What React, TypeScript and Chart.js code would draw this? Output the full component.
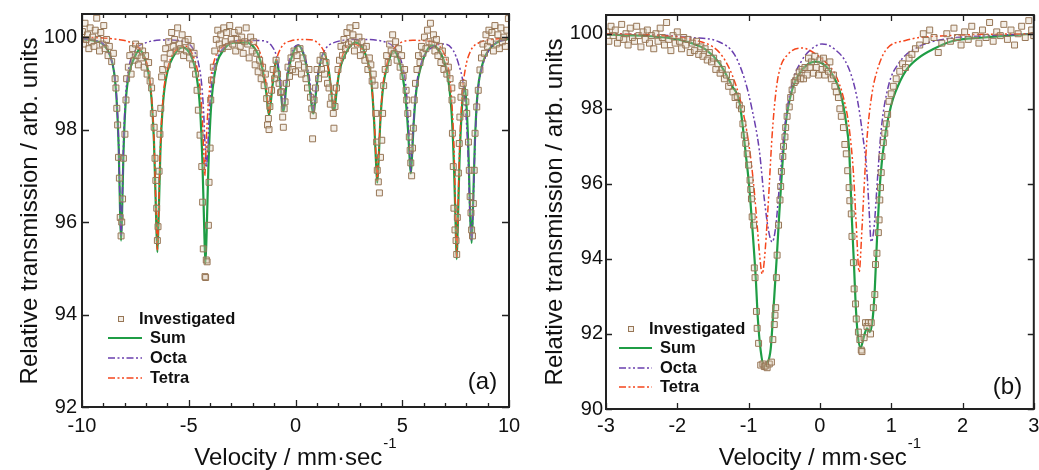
import React, { useEffect, useRef } from 'react';
import { Chart, registerables } from 'chart.js';

Chart.register(...registerables);

const FONT = '"Liberation Sans", Arial, Helvetica, sans-serif';

// ---------- shared text ----------
const legendLabels = ['Investigated', 'Sum', 'Octa', 'Tetra'];
const yTitleText = 'Relative transmission / arb. units';
const xTitleText = 'Velocity / mm·sec';
const xTitleSup = '-1';

// ---------- panel (a) ----------
const xTicksA = [-10, -5, 0, 5, 10];
const yTicksA = [92, 94, 96, 98, 100];

const investigatedA: [number, number][] = [
  [-9.98, 100.12], [-9.92, 99.85], [-9.86, 100.3], [-9.8, 99.95], [-9.74, 100.05], [-9.68, 99.75], [-9.62, 100.2], [-9.56, 99.9], [-9.5, 100.0], [-9.44, 99.8],
  [-9.38, 100.15], [-9.31, 100.41], [-9.25, 99.95], [-9.18, 99.7], [-9.12, 100.1], [-9.05, 99.85], [-8.98, 100.25], [-8.92, 99.75], [-8.85, 99.95], [-8.78, 99.6],
  [-8.72, 99.8], [-8.61, 99.47], [-8.53, 99.65], [-8.45, 99.1], [-8.41, 98.9], [-8.37, 98.46], [-8.33, 98.1], [-8.29, 97.4], [-8.25, 96.95], [-8.21, 96.1],
  [-8.17, 95.7], [-8.14, 96.0], [-8.1, 96.5], [-8.06, 97.38], [-7.99, 97.9], [-7.94, 98.64], [-7.91, 99.1], [-7.83, 99.35], [-7.76, 99.6], [-7.7, 99.2],
  [-7.63, 99.75], [-7.56, 99.5], [-7.49, 99.85], [-7.42, 99.6], [-7.36, 99.4], [-7.3, 99.8], [-7.23, 99.55], [-7.16, 99.7], [-7.09, 99.35], [-7.02, 99.6],
  [-6.95, 99.2], [-6.88, 99.45], [-6.81, 99.05], [-6.74, 98.9], [-6.66, 98.35], [-6.62, 98.05], [-6.58, 97.38], [-6.54, 96.9], [-6.5, 96.3], [-6.47, 95.6],
  [-6.44, 95.9], [-6.39, 97.1], [-6.35, 97.9], [-6.31, 98.46], [-6.27, 99.14], [-6.22, 99.3], [-6.15, 99.55], [-6.08, 99.75], [-6.01, 99.4], [-5.94, 99.9],
  [-5.87, 99.65], [-5.8, 100.1], [-5.73, 99.8], [-5.66, 99.95], [-5.59, 99.7], [-5.52, 100.2], [-5.45, 99.85], [-5.38, 99.75], [-5.31, 100.05], [-5.24, 99.6],
  [-5.17, 99.9], [-5.1, 99.7], [-5.03, 99.95], [-4.96, 99.55], [-4.89, 99.8], [-4.82, 99.4], [-4.75, 99.65], [-4.68, 99.2], [-4.61, 98.85], [-4.55, 98.42],
  [-4.47, 97.88], [-4.39, 97.2], [-4.35, 96.43], [-4.32, 95.42], [-4.24, 94.82], [-4.21, 94.8], [-4.18, 95.18], [-4.14, 95.14], [-4.08, 95.93], [-4.05, 96.86],
  [-4.0, 97.6], [-3.97, 98.64], [-3.93, 99.07], [-3.85, 99.35], [-3.78, 99.7], [-3.71, 99.95], [-3.64, 100.15], [-3.57, 99.85], [-3.5, 100.05], [-3.43, 99.75],
  [-3.36, 100.2], [-3.29, 99.9], [-3.22, 100.1], [-3.15, 99.8], [-3.08, 100.25], [-3.01, 99.95], [-2.94, 99.85], [-2.87, 100.1], [-2.8, 99.7], [-2.73, 99.95],
  [-2.66, 100.15], [-2.59, 99.8], [-2.52, 100.0], [-2.45, 99.65], [-2.38, 99.9], [-2.31, 100.2], [-2.24, 99.85], [-2.17, 99.55], [-2.1, 100.0], [-2.03, 99.7],
  [-1.96, 99.9], [-1.89, 99.4], [-1.82, 99.65], [-1.75, 99.25], [-1.68, 99.5], [-1.61, 99.1], [-1.54, 99.35], [-1.47, 98.95], [-1.41, 99.2], [-1.35, 98.67],
  [-1.31, 98.1], [-1.27, 98.24], [-1.24, 98.0], [-1.2, 98.5], [-1.12, 98.85], [-1.05, 99.3], [-0.98, 99.1], [-0.91, 99.5], [-0.84, 99.2], [-0.77, 99.0],
  [-0.7, 98.8], [-0.65, 98.82], [-0.6, 98.27], [-0.57, 98.05], [-0.53, 98.45], [-0.49, 98.6], [-0.42, 99.0], [-0.35, 99.35], [-0.28, 99.15], [-0.21, 99.55],
  [-0.14, 99.3], [-0.07, 99.7], [0.0, 99.25], [0.07, 99.6], [0.14, 99.4], [0.21, 99.75], [0.28, 99.2], [0.35, 99.55], [0.42, 99.35], [0.49, 99.1],
  [0.56, 98.9], [0.63, 99.3], [0.7, 98.7], [0.76, 98.45], [0.8, 97.8], [0.83, 98.3], [0.87, 98.64], [0.94, 98.9], [1.01, 99.3], [1.08, 99.1],
  [1.15, 99.5], [1.22, 99.3], [1.29, 99.6], [1.36, 99.2], [1.43, 99.45], [1.5, 99.0], [1.57, 98.9], [1.63, 98.55], [1.7, 98.7], [1.77, 98.35],
  [1.8, 98.03], [1.85, 98.5], [1.92, 98.9], [1.99, 99.3], [2.06, 99.5], [2.13, 99.8], [2.2, 99.6], [2.27, 99.95], [2.34, 99.75], [2.41, 100.1],
  [2.48, 99.85], [2.55, 100.2], [2.62, 99.9], [2.69, 100.05], [2.76, 99.7], [2.83, 100.25], [2.9, 99.85], [2.97, 100.0], [3.04, 99.6], [3.11, 99.9],
  [3.18, 99.75], [3.25, 99.5], [3.32, 99.8], [3.39, 99.3], [3.46, 99.55], [3.53, 99.4], [3.59, 99.05], [3.64, 99.2], [3.72, 98.96], [3.76, 98.35],
  [3.8, 97.73], [3.83, 97.12], [3.88, 96.87], [3.93, 96.63], [3.98, 97.4], [4.04, 97.77], [4.08, 98.35], [4.13, 98.95], [4.2, 99.3], [4.27, 99.6],
  [4.34, 99.45], [4.41, 99.85], [4.48, 99.7], [4.55, 100.05], [4.62, 99.65], [4.69, 99.9], [4.76, 99.5], [4.83, 99.75], [4.9, 99.35], [4.97, 99.6],
  [5.04, 99.15], [5.11, 99.3], [5.18, 98.85], [5.21, 98.64], [5.26, 98.35], [5.33, 97.84], [5.37, 97.55], [5.4, 97.28], [5.44, 97.0], [5.48, 97.6],
  [5.52, 98.03], [5.56, 98.64], [5.62, 99.0], [5.69, 99.3], [5.76, 99.6], [5.83, 99.45], [5.9, 99.8], [5.97, 99.65], [6.04, 100.0], [6.11, 99.75],
  [6.18, 100.15], [6.25, 99.9], [6.32, 100.3], [6.39, 99.85], [6.46, 100.05], [6.53, 99.7], [6.6, 99.95], [6.67, 99.6], [6.74, 99.8], [6.81, 99.45],
  [6.88, 99.7], [6.95, 99.3], [7.02, 99.5], [7.09, 99.2], [7.16, 99.35], [7.24, 99.1], [7.32, 98.9], [7.33, 98.64], [7.35, 97.92], [7.39, 97.2],
  [7.42, 96.3], [7.47, 95.83], [7.52, 95.6], [7.55, 95.3], [7.58, 96.1], [7.63, 97.06], [7.67, 97.7], [7.7, 98.27], [7.75, 98.7], [7.8, 98.95],
  [7.86, 99.0], [7.93, 98.8], [7.98, 98.6], [8.02, 98.35], [8.1, 97.73], [8.14, 97.12], [8.18, 96.55], [8.22, 96.2], [8.25, 95.83], [8.29, 95.7],
  [8.33, 96.4], [8.37, 97.12], [8.41, 97.92], [8.49, 98.49], [8.56, 98.85], [8.64, 99.29], [8.71, 99.55], [8.78, 99.85], [8.85, 99.65], [8.92, 100.05],
  [8.99, 99.8], [9.06, 100.15], [9.13, 99.9], [9.2, 100.1], [9.27, 99.7], [9.34, 100.25], [9.41, 99.85], [9.48, 100.05], [9.55, 99.75], [9.62, 100.2],
  [9.69, 99.9], [9.76, 100.0], [9.83, 99.8], [9.9, 100.15], [9.97, 100.4],
];

const sumA: [number, number][] = [
  [-10, 99.96], [-9.5, 99.93], [-9.0, 99.84], [-8.7, 99.62], [-8.5, 99.25], [-8.38, 98.65], [-8.28, 97.6], [-8.22, 96.3], [-8.17, 95.6], [-8.12, 96.25],
  [-8.06, 97.45], [-7.96, 98.55], [-7.8, 99.2], [-7.55, 99.55], [-7.32, 99.72], [-7.1, 99.6], [-6.9, 99.25], [-6.75, 98.7], [-6.63, 97.75], [-6.54, 96.3],
  [-6.47, 95.35], [-6.41, 96.1], [-6.33, 97.5], [-6.2, 98.6], [-6.0, 99.25], [-5.7, 99.6], [-5.3, 99.78], [-4.9, 99.6], [-4.65, 99.2], [-4.47, 98.45],
  [-4.36, 97.3], [-4.28, 95.95], [-4.22, 95.1], [-4.16, 95.8], [-4.08, 97.2], [-3.96, 98.45], [-3.75, 99.3], [-3.4, 99.7], [-2.9, 99.88], [-2.3, 99.88],
  [-1.9, 99.75], [-1.65, 99.5], [-1.48, 99.15], [-1.37, 98.8], [-1.29, 98.45], [-1.24, 98.32], [-1.19, 98.45], [-1.1, 98.85], [-1.0, 99.25], [-0.9, 99.52],
  [-0.8, 99.3], [-0.7, 98.9], [-0.62, 98.5], [-0.57, 98.4], [-0.52, 98.5], [-0.44, 98.9], [-0.32, 99.3], [-0.12, 99.65], [0.13, 99.82], [0.38, 99.62],
  [0.58, 99.2], [0.7, 98.75], [0.78, 98.45], [0.83, 98.35], [0.88, 98.45], [0.96, 98.8], [1.08, 99.25], [1.32, 99.65], [1.55, 99.3], [1.67, 98.85],
  [1.75, 98.5], [1.8, 98.42], [1.85, 98.5], [1.93, 98.85], [2.05, 99.25], [2.3, 99.6], [2.8, 99.88], [3.3, 99.6], [3.55, 99.05], [3.68, 98.2],
  [3.77, 97.3], [3.83, 96.85], [3.89, 97.3], [3.97, 98.15], [4.1, 98.9], [4.35, 99.45], [4.6, 99.7], [4.9, 99.4], [5.14, 98.75], [5.27, 98.0],
  [5.35, 97.35], [5.4, 97.05], [5.45, 97.35], [5.53, 98.1], [5.66, 98.85], [5.9, 99.4], [6.4, 99.82], [6.9, 99.55], [7.15, 99.1], [7.32, 98.3],
  [7.43, 97.1], [7.5, 95.95], [7.55, 95.2], [7.6, 95.9], [7.68, 97.3], [7.8, 98.5], [7.9, 98.95], [8.0, 98.6], [8.1, 97.55], [8.18, 96.15],
  [8.25, 95.55], [8.31, 96.25], [8.4, 97.7], [8.52, 98.75], [8.75, 99.4], [9.1, 99.75], [9.5, 99.9], [10, 99.96],
];

const octaA: [number, number][] = [
  [-10, 99.97], [-9.4, 99.93], [-9.0, 99.85], [-8.7, 99.6], [-8.5, 99.25], [-8.38, 98.7], [-8.28, 97.65], [-8.22, 96.4], [-8.17, 95.7], [-8.12, 96.4],
  [-8.06, 97.6], [-7.96, 98.7], [-7.8, 99.35], [-7.5, 99.72], [-7.0, 99.88], [-6.0, 99.94], [-5.2, 99.9], [-4.8, 99.75], [-4.55, 99.45], [-4.4, 99.0],
  [-4.3, 98.35], [-4.23, 97.6], [-4.17, 97.2], [-4.11, 97.6], [-4.03, 98.4], [-3.92, 99.05], [-3.7, 99.5], [-3.3, 99.8], [-2.5, 99.93], [-1.5, 99.92],
  [-1.1, 99.8], [-0.9, 99.6], [-0.76, 99.25], [-0.67, 98.85], [-0.61, 98.55], [-0.57, 98.45], [-0.53, 98.55], [-0.45, 98.95], [-0.33, 99.4], [-0.1, 99.75],
  [0.13, 99.83], [0.35, 99.7], [0.56, 99.35], [0.7, 98.95], [0.78, 98.55], [0.83, 98.4], [0.88, 98.55], [0.97, 98.95], [1.1, 99.35], [1.35, 99.7],
  [1.8, 99.88], [3.0, 99.95], [4.3, 99.88], [4.8, 99.65], [5.05, 99.3], [5.2, 98.8], [5.3, 98.0], [5.36, 97.4], [5.4, 97.1], [5.44, 97.4],
  [5.52, 98.1], [5.64, 98.85], [5.9, 99.45], [6.4, 99.78], [7.0, 99.85], [7.4, 99.7], [7.65, 99.4], [7.85, 99.0], [7.98, 98.35], [8.08, 97.5],
  [8.17, 96.2], [8.25, 95.6], [8.31, 96.2], [8.4, 97.6], [8.52, 98.7], [8.75, 99.35], [9.1, 99.75], [9.5, 99.9], [10, 99.95],
];

const tetraA: [number, number][] = [
  [-10, 100.0], [-9.0, 99.98], [-8.3, 99.95], [-7.8, 99.9], [-7.4, 99.8], [-7.1, 99.6], [-6.9, 99.3], [-6.75, 98.75], [-6.63, 97.8], [-6.54, 96.4],
  [-6.47, 95.4], [-6.41, 96.2], [-6.33, 97.6], [-6.2, 98.7], [-6.0, 99.3], [-5.6, 99.72], [-5.1, 99.8], [-4.8, 99.6], [-4.6, 99.3], [-4.45, 98.8],
  [-4.35, 98.1], [-4.3, 97.5], [-4.25, 97.0], [-4.2, 97.5], [-4.12, 98.3], [-4.0, 99.0], [-3.8, 99.5], [-3.4, 99.8], [-2.5, 99.92], [-1.9, 99.85],
  [-1.65, 99.65], [-1.48, 99.3], [-1.37, 98.95], [-1.29, 98.5], [-1.24, 98.35], [-1.19, 98.5], [-1.1, 98.95], [-0.95, 99.4], [-0.7, 99.75], [-0.2, 99.92],
  [0.5, 99.95], [1.1, 99.85], [1.4, 99.6], [1.6, 99.15], [1.72, 98.7], [1.8, 98.5], [1.88, 98.7], [2.0, 99.15], [2.2, 99.6], [2.6, 99.85],
  [3.1, 99.75], [3.4, 99.45], [3.6, 98.8], [3.72, 97.9], [3.79, 97.2], [3.83, 96.9], [3.87, 97.2], [3.94, 97.9], [4.06, 98.8], [4.3, 99.45],
  [4.7, 99.8], [5.5, 99.93], [6.4, 99.9], [6.9, 99.7], [7.15, 99.35], [7.32, 98.6], [7.43, 97.5], [7.5, 96.1], [7.55, 95.25], [7.6, 96.0],
  [7.68, 97.5], [7.8, 98.7], [7.95, 99.3], [8.2, 99.7], [8.6, 99.88], [9.2, 99.95], [10, 99.98],
];

// ---------- panel (b) ----------
const xTicksB = [-3, -2, -1, 0, 1, 2, 3];
const yTicksB = [90, 92, 94, 96, 98, 100];

const investigatedB: [number, number][] = [
  [-2.99, 100.05], [-2.96, 99.8], [-2.93, 100.2], [-2.9, 99.95], [-2.87, 100.1], [-2.84, 99.75], [-2.81, 99.9], [-2.78, 100.25], [-2.75, 99.85], [-2.72, 100.0],
  [-2.69, 99.7], [-2.66, 100.15], [-2.63, 99.9], [-2.6, 99.8], [-2.57, 100.2], [-2.54, 99.95], [-2.51, 99.65], [-2.48, 100.05], [-2.45, 99.85], [-2.42, 100.1],
  [-2.39, 99.75], [-2.36, 99.95], [-2.33, 99.6], [-2.3, 100.0], [-2.27, 99.8], [-2.24, 100.15], [-2.21, 99.9], [-2.18, 99.7], [-2.15, 100.3], [-2.12, 99.85],
  [-2.09, 99.55], [-2.06, 99.95], [-2.03, 99.75], [-2.0, 100.05], [-1.97, 99.8], [-1.94, 99.6], [-1.91, 99.9], [-1.88, 99.7], [-1.85, 99.85], [-1.82, 99.5],
  [-1.79, 99.75], [-1.76, 99.55], [-1.73, 99.8], [-1.7, 99.45], [-1.67, 99.65], [-1.64, 99.4], [-1.61, 99.6], [-1.58, 99.3], [-1.55, 99.5], [-1.52, 99.25],
  [-1.49, 99.35], [-1.46, 99.05], [-1.43, 99.2], [-1.4, 98.95], [-1.37, 99.05], [-1.34, 98.8], [-1.31, 98.9], [-1.28, 98.6], [-1.25, 98.7], [-1.22, 98.45],
  [-1.19, 98.3], [-1.16, 98.33], [-1.13, 98.1], [-1.1, 98.0], [-1.08, 97.6], [-1.06, 97.3], [-1.04, 97.08], [-1.02, 96.8], [-1.0, 96.5], [-0.98, 96.1],
  [-0.97, 95.85], [-0.96, 95.6], [-0.95, 95.12], [-0.93, 94.9], [-0.92, 93.76], [-0.91, 93.5], [-0.89, 92.6], [-0.88, 92.15], [-0.86, 91.75], [-0.83, 91.17],
  [-0.8, 91.2], [-0.78, 91.13], [-0.76, 91.15], [-0.74, 91.1], [-0.71, 91.2], [-0.68, 91.25], [-0.66, 91.85], [-0.64, 92.25], [-0.63, 92.5], [-0.62, 92.7],
  [-0.61, 93.5], [-0.6, 94.1], [-0.58, 94.9], [-0.56, 95.57], [-0.55, 95.93], [-0.54, 96.33], [-0.52, 96.73], [-0.51, 97.0], [-0.49, 97.25], [-0.48, 97.5],
  [-0.46, 97.8], [-0.43, 98.05], [-0.41, 98.3], [-0.39, 98.5], [-0.36, 98.7], [-0.34, 98.75], [-0.32, 98.85], [-0.29, 98.98], [-0.27, 98.8], [-0.25, 99.05],
  [-0.23, 98.8], [-0.21, 99.1], [-0.18, 98.9], [-0.16, 99.35], [-0.14, 99.1], [-0.12, 99.25], [-0.09, 98.95], [-0.07, 99.4], [-0.05, 99.1], [-0.02, 98.9],
  [0.0, 99.3], [0.03, 99.05], [0.05, 99.35], [0.07, 98.9], [0.09, 99.1], [0.12, 99.0], [0.14, 99.25], [0.16, 98.8], [0.19, 98.9], [0.21, 98.6],
  [0.23, 98.45], [0.26, 98.3], [0.28, 98.0], [0.3, 97.8], [0.33, 97.5], [0.35, 97.05], [0.37, 96.8], [0.39, 96.35], [0.41, 95.9], [0.42, 95.55],
  [0.44, 95.2], [0.45, 94.6], [0.47, 93.9], [0.48, 93.2], [0.5, 92.8], [0.51, 92.4], [0.54, 92.05], [0.56, 91.85], [0.58, 91.57], [0.59, 91.53],
  [0.62, 91.9], [0.64, 92.3], [0.66, 92.2], [0.68, 92.3], [0.71, 92.0], [0.72, 92.3], [0.75, 92.7], [0.77, 93.05], [0.78, 93.85], [0.8, 94.15],
  [0.82, 94.7], [0.83, 95.04], [0.84, 95.57], [0.85, 95.9], [0.86, 96.3], [0.87, 96.73], [0.89, 97.1], [0.91, 97.35], [0.93, 97.6], [0.95, 97.85],
  [0.97, 98.2], [1.0, 98.4], [1.03, 98.6], [1.07, 98.8], [1.12, 99.0], [1.16, 99.2], [1.2, 99.1], [1.25, 99.35], [1.29, 99.45], [1.34, 99.6],
  [1.4, 99.7], [1.45, 100.0], [1.49, 99.82], [1.54, 100.1], [1.6, 99.9], [1.66, 99.5], [1.71, 99.75], [1.78, 100.0], [1.83, 99.8], [1.88, 100.15],
  [1.93, 99.9], [1.98, 99.7], [2.03, 100.05], [2.08, 99.85], [2.13, 100.2], [2.18, 99.95], [2.23, 99.75], [2.28, 100.1], [2.33, 99.9], [2.38, 100.3],
  [2.43, 99.8], [2.48, 100.05], [2.53, 99.95], [2.58, 100.25], [2.63, 99.85], [2.68, 100.1], [2.73, 99.7], [2.78, 100.0], [2.83, 100.2], [2.88, 99.9],
  [2.93, 100.35], [2.97, 100.1], [3.0, 99.95],
];

const sumB: [number, number][] = [
  [-3, 99.98], [-2.5, 99.95], [-2.1, 99.88], [-1.8, 99.75], [-1.6, 99.58], [-1.41, 99.22], [-1.23, 98.6], [-1.13, 98.2], [-1.08, 97.5], [-1.04, 96.8],
  [-0.99, 95.9], [-0.95, 94.9], [-0.9, 93.5], [-0.87, 92.4], [-0.83, 91.55], [-0.78, 91.13], [-0.74, 91.2], [-0.69, 91.6], [-0.66, 92.4], [-0.63, 93.3],
  [-0.6, 94.2], [-0.57, 95.2], [-0.53, 96.4], [-0.48, 97.6], [-0.39, 98.5], [-0.25, 99.04], [-0.06, 99.26], [0.13, 99.04], [0.29, 98.4], [0.37, 97.6],
  [0.41, 96.9], [0.45, 95.0], [0.48, 93.76], [0.5, 92.85], [0.53, 92.0], [0.57, 91.63], [0.62, 91.95], [0.66, 92.15], [0.7, 92.05], [0.74, 92.4],
  [0.77, 93.2], [0.8, 94.5], [0.85, 96.2], [0.92, 97.35], [1.0, 98.1], [1.06, 98.45], [1.2, 99.0], [1.38, 99.35], [1.6, 99.6], [1.85, 99.8],
  [2.3, 99.9], [3, 100.0],
];

const octaB: [number, number][] = [
  [-3, 100.0], [-2.2, 99.96], [-1.8, 99.9], [-1.41, 99.78], [-1.2, 99.45], [-1.05, 98.75], [-0.95, 97.97], [-0.85, 96.9], [-0.78, 95.6], [-0.72, 94.75],
  [-0.67, 94.45], [-0.62, 94.85], [-0.57, 95.9], [-0.5, 97.4], [-0.4, 98.6], [-0.25, 99.3], [-0.1, 99.62], [0.03, 99.73], [0.2, 99.6], [0.4, 99.1],
  [0.52, 98.3], [0.6, 97.3], [0.66, 96.3], [0.69, 95.3], [0.72, 94.45], [0.76, 94.85], [0.81, 96.2], [0.86, 97.45], [0.96, 98.6], [1.1, 99.2],
  [1.38, 99.65], [1.8, 99.87], [2.4, 99.95], [3, 100.0],
];

const tetraB: [number, number][] = [
  [-3, 100.0], [-2.2, 99.95], [-1.8, 99.85], [-1.41, 99.5], [-1.23, 98.9], [-1.1, 98.1], [-1.0, 97.1], [-0.93, 96.0], [-0.88, 94.9], [-0.84, 94.0],
  [-0.81, 93.6], [-0.78, 93.95], [-0.73, 95.3], [-0.67, 97.3], [-0.62, 98.4], [-0.57, 99.0], [-0.45, 99.45], [-0.25, 99.62], [-0.05, 99.45], [0.1, 99.2],
  [0.22, 98.9], [0.33, 98.3], [0.41, 97.5], [0.47, 96.3], [0.51, 94.9], [0.55, 93.65], [0.59, 94.8], [0.62, 95.9], [0.66, 97.2], [0.73, 98.4],
  [0.8, 99.0], [0.92, 99.55], [1.2, 99.82], [1.8, 99.95], [3, 100.0],
];

// ---------- styles ----------
const GREEN = '#1f9d45';
const PURPLE = '#6a3fae';
const RED = '#f5461c';
const POINT_BORDER = '#977656';
const POINT_FILL = 'rgba(215,200,176,0.3)';
const DASH = [7, 2.5, 2, 2.5, 2, 2.5];

type PanelCfg = {
  left: number; width: number; height: number;
  xMin: number; xMax: number; yMin: number; yMax: number;
  xTicks: number[]; yTicks: number[]; minorStep: number;
  padTop: number; padRight: number; yAxisWidth: number; xAxisHeight: number;
  yLabelPad: number; xLabelPad: number;
  majorLen: number; minorLen: number;
  yTitleX: number; yTitleY: number; xTitleBaseline: number;
  legend: { markerX: number; text1X: number; lineX1: number; lineX2: number; textX: number; ys: number[] };
  tag: { text: string; x: number; y: number };
  investigated: [number, number][]; sum: [number, number][]; octa: [number, number][]; tetra: [number, number][];
};

const panelA: PanelCfg = {
  left: 0, width: 520, height: 470,
  xMin: -10, xMax: 10, yMin: 92, yMax: 100.5,
  xTicks: xTicksA, yTicks: yTicksA, minorStep: 1,
  padTop: 14, padRight: 11, yAxisWidth: 82, xAxisHeight: 63,
  yLabelPad: 5, xLabelPad: 7, majorLen: 7, minorLen: 4,
  yTitleX: 37, yTitleY: 211, xTitleBaseline: 465,
  legend: { markerX: 121, text1X: 139, lineX1: 108, lineX2: 142, textX: 150, ys: [319, 338, 358, 378] },
  tag: { text: '(a)', x: 482.5, y: 382 },
  investigated: investigatedA, sum: sumA, octa: octaA, tetra: tetraA,
};

const panelB: PanelCfg = {
  left: 520, width: 519, height: 470,
  xMin: -3, xMax: 3, yMin: 90, yMax: 100.5,
  xTicks: xTicksB, yTicks: yTicksB, minorStep: 1,
  padTop: 15, padRight: 4, yAxisWidth: 86, xAxisHeight: 61,
  yLabelPad: 3, xLabelPad: 5, majorLen: 6, minorLen: 6,
  yTitleX: 41.7, yTitleY: 212, xTitleBaseline: 465,
  legend: { markerX: 111, text1X: 129, lineX1: 99, lineX2: 132, textX: 140, ys: [329, 348, 368, 387] },
  tag: { text: '(b)', x: 487.5, y: 387 },
  investigated: investigatedB, sum: sumB, octa: octaB, tetra: tetraB,
};

function makeDecor(cfg: PanelCfg) {
  return {
    id: 'decor' + cfg.tag.text,
    afterDraw(chart: any) {
      const { ctx, chartArea: a } = chart;
      const xs = chart.scales.x;
      const ys = chart.scales.y;
      ctx.save();
      // ticks
      ctx.strokeStyle = '#222';
      ctx.lineWidth = 1.3;
      ctx.beginPath();
      for (let v = cfg.xMin; v <= cfg.xMax + 1e-9; v += cfg.minorStep) {
        const px = Math.round(xs.getPixelForValue(v)) + 0.5;
        const len = cfg.xTicks.includes(v) ? cfg.majorLen : cfg.minorLen;
        ctx.moveTo(px, a.bottom); ctx.lineTo(px, a.bottom - len);
        ctx.moveTo(px, a.top); ctx.lineTo(px, a.top + len);
      }
      for (const v of cfg.yTicks) {
        const py = Math.round(ys.getPixelForValue(v)) + 0.5;
        ctx.moveTo(a.left, py); ctx.lineTo(a.left + cfg.majorLen, py);
        ctx.moveTo(a.right, py); ctx.lineTo(a.right - cfg.majorLen, py);
      }
      ctx.stroke();
      // frame
      ctx.lineWidth = 2;
      ctx.strokeStyle = '#222';
      ctx.strokeRect(a.left, a.top, a.right - a.left, a.bottom - a.top);

      // y title
      ctx.fillStyle = '#111';
      ctx.font = `24px ${FONT}`;
      ctx.save();
      ctx.translate(cfg.yTitleX, cfg.yTitleY);
      ctx.rotate(-Math.PI / 2);
      ctx.textAlign = 'center';
      ctx.textBaseline = 'alphabetic';
      ctx.fillText(yTitleText, 0, 0);
      ctx.restore();

      // x title with superscript
      ctx.font = `24px ${FONT}`;
      const w1 = ctx.measureText(xTitleText).width;
      ctx.font = `15px ${FONT}`;
      const w2 = ctx.measureText(xTitleSup).width;
      const cx = (a.left + a.right) / 2;
      const x0 = cx - (w1 + w2 + 1) / 2;
      ctx.textAlign = 'left';
      ctx.textBaseline = 'alphabetic';
      ctx.font = `24px ${FONT}`;
      ctx.fillText(xTitleText, x0, cfg.xTitleBaseline);
      ctx.font = `15px ${FONT}`;
      ctx.fillText(xTitleSup, x0 + w1 + 1, cfg.xTitleBaseline - 17);

      // legend
      const L = cfg.legend;
      ctx.lineWidth = 1;
      ctx.strokeStyle = POINT_BORDER;
      ctx.fillStyle = POINT_FILL;
      ctx.fillRect(L.markerX - 2.5, L.ys[0] - 2.5, 5, 5);
      ctx.strokeRect(L.markerX - 2.5, L.ys[0] - 2.5, 5, 5);
      ctx.font = `bold 16.5px ${FONT}`;
      ctx.fillStyle = '#111';
      ctx.textBaseline = 'middle';
      ctx.fillText(legendLabels[0], L.text1X, L.ys[0]);
      const styles = [
        { c: GREEN, w: 2.2, d: [] as number[] },
        { c: PURPLE, w: 1.5, d: DASH },
        { c: RED, w: 1.5, d: DASH },
      ];
      styles.forEach((s, i) => {
        const y = L.ys[i + 1];
        ctx.save();
        ctx.strokeStyle = s.c;
        ctx.lineWidth = s.w;
        ctx.setLineDash(s.d);
        ctx.beginPath();
        ctx.moveTo(L.lineX1, y);
        ctx.lineTo(L.lineX2, y);
        ctx.stroke();
        ctx.restore();
        ctx.fillText(legendLabels[i + 1], L.textX, y);
      });

      // panel tag
      ctx.font = `24px ${FONT}`;
      ctx.textAlign = 'center';
      ctx.textBaseline = 'middle';
      ctx.fillText(cfg.tag.text, cfg.tag.x, cfg.tag.y);
      ctx.restore();
    },
  };
}

function buildConfig(cfg: PanelCfg): any {
  const toXY = (arr: [number, number][]) => arr.map(([x, y]) => ({ x, y }));
  const lineDs = (label: string, arr: [number, number][], color: string, width: number, dash: number[]) => ({
    type: 'line',
    label,
    data: toXY(arr),
    borderColor: color,
    borderWidth: width,
    borderDash: dash,
    pointRadius: 0,
    fill: false,
    cubicInterpolationMode: 'monotone',
  });
  return {
    type: 'scatter',
    data: {
      datasets: [
        {
          type: 'scatter',
          label: legendLabels[0],
          data: toXY(cfg.investigated),
          pointStyle: 'rect',
          pointRadius: 4.2,
          borderWidth: 1,
          borderColor: POINT_BORDER,
          backgroundColor: POINT_FILL,
        },
        lineDs(legendLabels[3], cfg.tetra, RED, 1.5, DASH),
        lineDs(legendLabels[2], cfg.octa, PURPLE, 1.5, DASH),
        lineDs(legendLabels[1], cfg.sum, GREEN, 2.2, []),
      ],
    },
    options: {
      animation: false,
      responsive: false,
      maintainAspectRatio: false,
      devicePixelRatio: 1,
      layout: { padding: { left: 0, top: cfg.padTop, right: cfg.padRight, bottom: 0 } },
      plugins: { legend: { display: false }, tooltip: { enabled: false } },
      scales: {
        x: {
          type: 'linear',
          min: cfg.xMin,
          max: cfg.xMax,
          grid: { display: false, drawTicks: false },
          border: { display: false },
          afterBuildTicks: (s: any) => { s.ticks = cfg.xTicks.map((v) => ({ value: v })); },
          afterFit: (s: any) => { s.height = cfg.xAxisHeight; s.paddingLeft = 0; s.paddingRight = 0; },
          ticks: { font: { family: FONT, size: 20 }, color: '#111', padding: cfg.xLabelPad, maxRotation: 0, autoSkip: false },
        },
        y: {
          type: 'linear',
          min: cfg.yMin,
          max: cfg.yMax,
          grid: { display: false, drawTicks: false },
          border: { display: false },
          afterBuildTicks: (s: any) => { s.ticks = cfg.yTicks.map((v) => ({ value: v })); },
          afterFit: (s: any) => { s.width = cfg.yAxisWidth; s.paddingTop = 0; s.paddingBottom = 0; },
          ticks: { font: { family: FONT, size: 20 }, color: '#111', padding: cfg.yLabelPad, autoSkip: false },
        },
      },
    },
    plugins: [makeDecor(cfg)],
  };
}

function Panel({ cfg }: { cfg: PanelCfg }) {
  const ref = useRef<HTMLCanvasElement>(null);
  useEffect(() => {
    if (!ref.current) return;
    const chart = new Chart(ref.current, buildConfig(cfg));
    return () => chart.destroy();
  }, [cfg]);
  return (
    <canvas
      ref={ref}
      width={cfg.width}
      height={cfg.height}
      style={{ position: 'absolute', left: cfg.left, top: 0, width: cfg.width, height: cfg.height }}
    />
  );
}

export default function App() {
  return (
    <div style={{ position: 'fixed', left: 0, top: 0, width: 1039, height: 470, background: '#fff', overflow: 'hidden' }}>
      <Panel cfg={panelA} />
      <Panel cfg={panelB} />
    </div>
  );
}
